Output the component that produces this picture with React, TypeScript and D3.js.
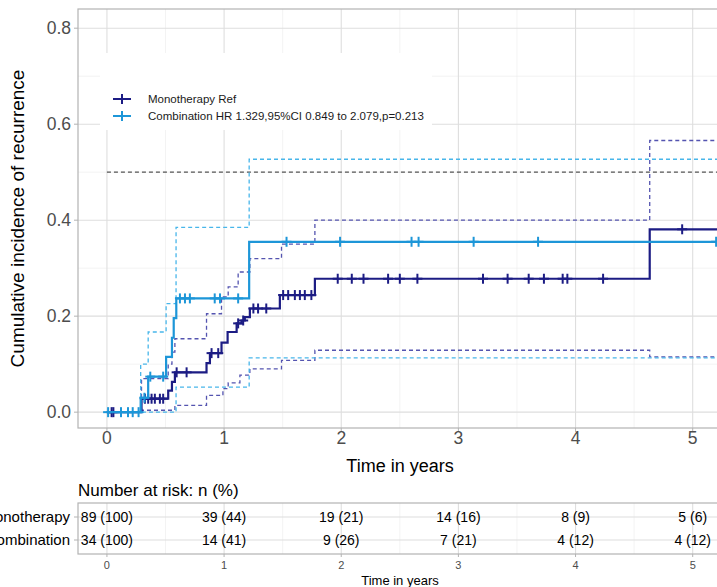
import React from 'react';
import * as d3 from 'd3';

// cumulative incidence, step functions
const monoTimes = [0, 0.295, 0.523, 0.555, 0.58, 0.85, 0.879, 0.978, 1.03, 1.107, 1.149, 1.177, 1.22, 1.476, 1.775, 4.633, 5.3];
const monoEst = [0, 0.028, 0.045, 0.063, 0.083, 0.102, 0.123, 0.145, 0.167, 0.185, 0.191, 0.198, 0.216, 0.244, 0.278, 0.381, 0.381];
const monoUpTimes = [0, 0.295, 0.523, 0.555, 0.58, 0.85, 0.978, 1.035, 1.12, 1.22, 1.49, 1.775, 4.633, 5.3];
const monoUp = [0, 0.07, 0.1, 0.125, 0.153, 0.205, 0.24, 0.261, 0.292, 0.32, 0.35, 0.4, 0.566, 0.566];
const monoLoTimes = [0, 0.295, 0.58, 0.85, 0.99, 1.035, 1.135, 1.22, 1.49, 1.775, 4.633, 5.3];
const monoLo = [0, 0.004, 0.014, 0.035, 0.049, 0.061, 0.077, 0.09, 0.108, 0.129, 0.115, 0.115];
const monoCensor = [0.04, 0.055, 0.324, 0.352, 0.381, 0.409, 0.452, 0.48, 0.595, 0.68, 0.893, 0.95, 1.12, 1.163,
  1.25, 1.29, 1.36, 1.504, 1.547, 1.604, 1.647, 1.689, 1.745, 1.97, 2.09, 2.19, 2.4, 2.5, 2.65, 3.21, 3.42, 3.6,
  3.73, 3.89, 3.93, 4.235, 4.91];

const combTimes = [0, 0.288, 0.352, 0.505, 0.555, 0.57, 0.592, 1.214, 5.3];
const combEst = [0, 0.03, 0.074, 0.115, 0.155, 0.196, 0.237, 0.355, 0.355];
const combUpTimes = [0, 0.288, 0.352, 0.505, 0.59, 1.214, 5.3];
const combUp = [0, 0.1, 0.167, 0.226, 0.385, 0.527, 0.527];
const combLoTimes = [0, 0.59, 1.214, 5.3];
const combLo = [0, 0.052, 0.113, 0.113];
const combCensor = [0.01, 0.12, 0.18, 0.22, 0.27, 0.32, 0.37, 0.48, 0.623, 0.666, 0.708, 0.92, 0.965, 1.12,
  1.533, 1.99, 2.6, 2.66, 3.13, 3.68, 5.2];

const xTicks = [0, 1, 2, 3, 4, 5];
const yTicks = [0, 0.2, 0.4, 0.6, 0.8];
const groups = ['Monotherapy', 'Combination'];
const monoRisk = ['89 (100)', '39 (44)', '19 (21)', '14 (16)', '8 (9)', '5 (6)'];
const combRisk = ['34 (100)', '14 (41)', '9 (26)', '7 (21)', '4 (12)', '4 (12)'];
const legendLabels = ['Monotherapy Ref', 'Combination HR 1.329,95%CI 0.849 to 2.079,p=0.213'];

const MONO = '#1c1c84';
const COMB = '#1d96d8';
const MONO_CI = '#5454b0';
const COMB_CI = '#48b6ea';
const FONT = '"Liberation Sans", Arial, sans-serif';

const W = 717;
const H = 587;
const left = 78;
const right = 722;
const top = 9;
const bottom = 428;

const x = d3.scaleLinear().domain([-0.247, 5.25]).range([left, right]);
const y = d3.scaleLinear().domain([-0.033, 0.84]).range([bottom, top]);

const stepLine = d3.line<[number, number]>()
  .x(d => x(d[0]))
  .y(d => y(d[1]))
  .curve(d3.curveStepAfter);

const zip = (t: number[], v: number[]) => t.map((ti, i) => [ti, v[i]] as [number, number]);
const valueAt = (t: number[], v: number[], at: number) => v[Math.max(0, d3.bisectRight(t, at) - 1)];

const Censor = ({cx, cy, color}: {cx: number; cy: number; color: string}) => (
  <g stroke={color} strokeWidth={2}>
    <line x1={cx - 5} x2={cx + 5} y1={cy} y2={cy} />
    <line x1={cx} x2={cx} y1={cy - 5} y2={cy + 5} />
  </g>
);

export default function App() {
  const minorX = d3.range(-0.5, 5.6, 1).filter(v => x(v) >= left && x(v) <= right);
  const minorY = [0.1, 0.3, 0.5, 0.7];

  // risk table
  const tTop = 503;
  const tBottom = 554;
  const rowY = d3.scalePoint<string>().domain(groups).range([517, 540]);

  const series = [
    {times: monoTimes, est: monoEst, censor: monoCensor, color: MONO},
    {times: combTimes, est: combEst, censor: combCensor, color: COMB},
  ];

  return (
    <svg width={W} height={H} style={{position: 'absolute', left: 0, top: 0, background: '#fff'}} fontFamily={FONT}>
      <defs>
        <clipPath id="panel">
          <rect x={left} y={top} width={right - left} height={bottom - top} />
        </clipPath>
      </defs>

      {/* panel grid */}
      <g stroke="#ebebeb" strokeWidth={0.6}>
        {minorX.map(v => <line key={'mx' + v} x1={x(v)} x2={x(v)} y1={top} y2={bottom} />)}
        {minorY.map(v => <line key={'my' + v} x1={left} x2={right} y1={y(v)} y2={y(v)} />)}
      </g>
      <g stroke="#dedede" strokeWidth={1.1}>
        {xTicks.map(v => <line key={'gx' + v} x1={x(v)} x2={x(v)} y1={top} y2={bottom} />)}
        {yTicks.map(v => <line key={'gy' + v} x1={left} x2={right} y1={y(v)} y2={y(v)} />)}
      </g>

      {/* legend background */}
      <rect x={100} y={53} width={332} height={77} fill="#fff" />

      <g clipPath="url(#panel)">
        <line x1={x(0)} x2={right} y1={y(0.5)} y2={y(0.5)} stroke="#555" strokeWidth={1.3} strokeDasharray="4,3" />
        <path d={stepLine(zip(monoUpTimes, monoUp)) || ''} fill="none" stroke={MONO_CI} strokeWidth={1.3} strokeDasharray="4,3" />
        <path d={stepLine(zip(monoLoTimes, monoLo)) || ''} fill="none" stroke={MONO_CI} strokeWidth={1.3} strokeDasharray="4,3" />
        <path d={stepLine(zip(combUpTimes, combUp)) || ''} fill="none" stroke={COMB_CI} strokeWidth={1.3} strokeDasharray="4,3" />
        <path d={stepLine(zip(combLoTimes, combLo)) || ''} fill="none" stroke={COMB_CI} strokeWidth={1.3} strokeDasharray="4,3" />
        {series.map((s, i) => (
          <g key={'s' + i}>
            <path d={stepLine(zip(s.times, s.est)) || ''} fill="none" stroke={s.color} strokeWidth={2.2} />
            {s.censor.map((c, j) => (
              <Censor key={j} cx={x(c)} cy={y(valueAt(s.times, s.est, c))} color={s.color} />
            ))}
          </g>
        ))}
      </g>

      {/* panel border */}
      <rect x={left} y={top} width={right - left} height={bottom - top} fill="none" stroke="#b3b3b3" strokeWidth={1.2} />

      {/* y axis */}
      {yTicks.map(v => (
        <g key={'yt' + v}>
          <line x1={left - 4} x2={left} y1={y(v)} y2={y(v)} stroke="#b3b3b3" />
          <text x={left - 7} y={y(v)} dy="0.35em" textAnchor="end" fontSize={17.5} fill="#4d4d4d">{v.toFixed(1)}</text>
        </g>
      ))}
      <text transform={`translate(24,${(top + bottom) / 2}) rotate(-90)`} textAnchor="middle" fontSize={19} fill="#000">
        Cumulative incidence of recurrence
      </text>

      {/* x axis */}
      {xTicks.map(v => (
        <g key={'xt' + v}>
          <line x1={x(v)} x2={x(v)} y1={bottom} y2={bottom + 4} stroke="#b3b3b3" />
          <text x={x(v)} y={bottom + 10} dy="0.35em" textAnchor="middle" fontSize={17.5} fill="#4d4d4d">{v}</text>
        </g>
      ))}
      <text x={(left + right) / 2} y={466} dy="0.35em" textAnchor="middle" fontSize={18} fill="#000">Time in years</text>

      {/* legend */}
      {legendLabels.map((lab, i) => {
        const ly = 99 + i * 17;
        const color = i === 0 ? MONO : COMB;
        return (
          <g key={lab}>
            <line x1={113} x2={131} y1={ly} y2={ly} stroke={color} strokeWidth={2} />
            <line x1={122} x2={122} y1={ly - 5} y2={ly + 5} stroke={color} strokeWidth={2} />
            <text x={148} y={ly} dy="0.35em" fontSize={11.5} fill="#1a1a1a">{lab}</text>
          </g>
        );
      })}

      {/* number at risk */}
      <text x={left} y={490} dy="0.35em" fontSize={17} fill="#000">Number at risk: n (%)</text>
      <g stroke="#ebebeb" strokeWidth={0.6}>
        {minorX.map(v => <line key={'tmx' + v} x1={x(v)} x2={x(v)} y1={tTop} y2={tBottom} />)}
      </g>
      <g stroke="#dedede" strokeWidth={1.1}>
        {xTicks.map(v => <line key={'tgx' + v} x1={x(v)} x2={x(v)} y1={tTop} y2={tBottom} />)}
        {groups.map(g => <line key={'tgy' + g} x1={left} x2={right} y1={rowY(g)!} y2={rowY(g)!} />)}
      </g>
      <rect x={left} y={tTop} width={right - left} height={tBottom - tTop} fill="none" stroke="#b3b3b3" strokeWidth={1.2} />
      {groups.map((g, gi) => (
        <g key={'row' + g}>
          <line x1={left - 4} x2={left} y1={rowY(g)!} y2={rowY(g)!} stroke="#b3b3b3" />
          <text x={left - 8} y={rowY(g)!} dy="0.35em" textAnchor="end" fontSize={15} fill="#000">{g}</text>
          {(gi === 0 ? monoRisk : combRisk).map((r, i) => (
            <text key={i} x={x(xTicks[i])} y={rowY(g)!} dy="0.35em" textAnchor="middle" fontSize={14} fill="#000">{r}</text>
          ))}
        </g>
      ))}
      {xTicks.map(v => (
        <g key={'tt' + v}>
          <line x1={x(v)} x2={x(v)} y1={tBottom} y2={tBottom + 3} stroke="#b3b3b3" />
          <text x={x(v)} y={565} dy="0.35em" textAnchor="middle" fontSize={11} fill="#4d4d4d">{v}</text>
        </g>
      ))}
      <text x={(left + right) / 2} y={580} dy="0.35em" textAnchor="middle" fontSize={13} fill="#000">Time in years</text>
    </svg>
  );
}
